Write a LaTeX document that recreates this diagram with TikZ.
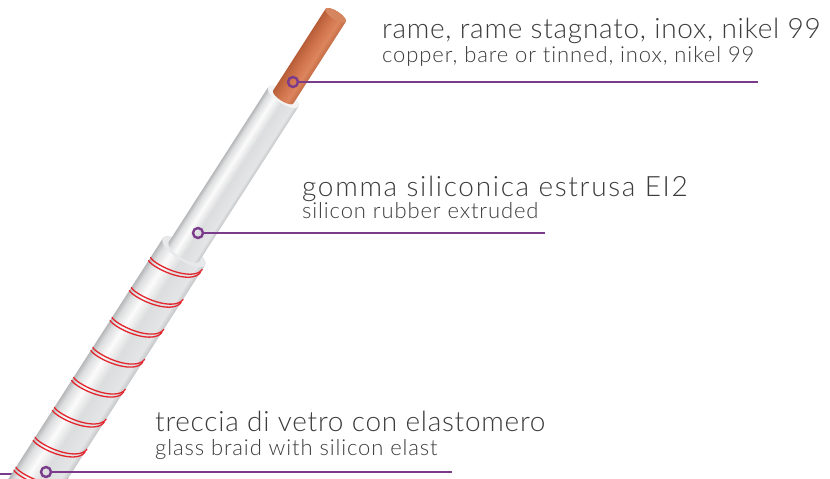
\documentclass[tikz,border=0pt]{standalone}
\usepackage{fontspec}
\setmainfont{Lato Light}[Ligatures=NoCommon]
\newfontfamily\bigfont{Lato Light}[Ligatures=NoCommon,LetterSpace=2.6]
\newfontfamily\widefont{Lato Light}[Ligatures=NoCommon,LetterSpace=6.0]
\newfontfamily\smallfont{Lato Light}[Ligatures=NoCommon,LetterSpace=4.0]
\usepackage{xcolor}

\definecolor{leader}{HTML}{7B3B8B}
\definecolor{txt}{HTML}{3C3C3C}
\definecolor{wirered}{HTML}{E3262E}
\definecolor{ringgray}{HTML}{E8E9EA}
\definecolor{facegray}{HTML}{F3F3F3}
\definecolor{copperface}{HTML}{D6865F}
\definecolor{sl1}{HTML}{C2C4C6}
\definecolor{sl2}{HTML}{E4E5E6}
\definecolor{sl3}{HTML}{DCDDDE}
\definecolor{sl4}{HTML}{FBFBFB}
\definecolor{sl5}{HTML}{B6B8BA}
\definecolor{cu1}{HTML}{C46C45}
\definecolor{cu2}{HTML}{DD855D}
\definecolor{cu3}{HTML}{D0744C}
\definecolor{cu4}{HTML}{B75E39}

% across the sleeve: lower right edge (0) to upper left edge (100)
\pgfdeclareverticalshading{sleeve}{100bp}{color(0bp)=(sl1); color(25bp)=(sl1);
  color(31bp)=(sl2); color(48bp)=(sl3); color(60bp)=(sl4); color(70bp)=(sl3);
  color(75bp)=(sl5); color(100bp)=(sl5)}
\pgfdeclareverticalshading{copper}{100bp}{color(0bp)=(cu1); color(25bp)=(cu1);
  color(38bp)=(cu2); color(55bp)=(cu3); color(75bp)=(cu4); color(100bp)=(cu4)}

\begin{document}
\begin{tikzpicture}[x=1pt,y=1pt,
  big/.style={anchor=base west,inner sep=0pt,text=txt,font=\bigfont\fontsize{28}{28}\selectfont},
  bigwide/.style={big,font=\widefont\fontsize{28}{28}\selectfont},
  small/.style={anchor=base west,inner sep=0pt,text=txt,font=\smallfont\fontsize{22}{22}\selectfont},
  dot/.style={circle,draw=leader,line width=2.4pt,minimum size=10pt,inner sep=0pt},
  lead/.style={draw=leader,line width=2.2pt},
  spiral/.style={draw=wirered,line width=1.3pt}]
\useasboundingbox (0,0) rectangle (830,-479);
\fill[white] (0,0) rectangle (830,-479);
\clip (0,0) rectangle (830,-479);

% stub of the lower leader, behind the cable
\coordinate (l3a) at (0,-474);
\coordinate (l3b) at (24,-474);
\draw[lead] (l3a) -- (l3b);

% the cable, drawn along its own axis
\begin{scope}[transform canvas={shift={(38,-479)},rotate=57.3}]
% glass braid
\shade[shading=sleeve] (-40,25) -- (270,25) arc[start angle=90,end angle=-90,x radius=8.75,y radius=25]
  -- (-40,-25) -- cycle;
\foreach \k in {0,...,8}{
  \pgfmathsetmacro\uz{244-35.6*\k}
  \draw[spiral] plot[domain=0:180,samples=40,variable=\t] ({\uz+35.6*\t/360-8.75*sin(\t)},{25*cos(\t)});
  \draw[spiral] plot[domain=0:180,samples=40,variable=\t] ({\uz+3.6+35.6*\t/360-8.75*sin(\t)},{25*cos(\t)});
}
\fill[ringgray] (270,0) ellipse[x radius=8.75,y radius=25];
% silicone sleeve
\shade[shading=sleeve] (270,18) -- (454,18) arc[start angle=90,end angle=-90,x radius=6.3,y radius=18]
  -- (270,-18) arc[start angle=-90,end angle=-270,x radius=6.3,y radius=18] -- cycle;
\fill[facegray] (454,0) ellipse[x radius=6.3,y radius=18];
% conductor
\shade[shading=copper] (454,12) -- (551,12) arc[start angle=90,end angle=-90,x radius=4.2,y radius=12]
  -- (454,-12) arc[start angle=-90,end angle=-270,x radius=4.2,y radius=12] -- cycle;
\fill[copperface] (551,0) ellipse[x radius=4.2,y radius=12];
\end{scope}

% conductor label
\node[dot] (d1) at (293,-82) {};
\coordinate (e1) at (758,-82);
\draw[lead] (d1) -- (e1);
\node[big] (t1) at (382,-38) {rame, rame stagnato, inox, nikel 99};
\node[small] (s1) at (382,-62) {copper, bare or tinned, inox, nikel 99};

% sleeve label
\node[dot] (d2) at (198,-233) {};
\coordinate (e2) at (545,-233);
\draw[lead] (d2) -- (e2);
\node[bigwide] (t2) at (302,-196) {gomma siliconica estrusa EI2};
\node[small] (s2) at (302,-218) {silicon rubber extruded};

% braid label
\node[dot] (d3) at (46,-472) {};
\coordinate (e3) at (452,-472);
\draw[lead] (d3) -- (e3);
\node[big] (t3) at (155,-431) {treccia di vetro con elastomero};
\node[small] (s3) at (155,-455) {glass braid with silicon elast};
\end{tikzpicture}
\end{document}
